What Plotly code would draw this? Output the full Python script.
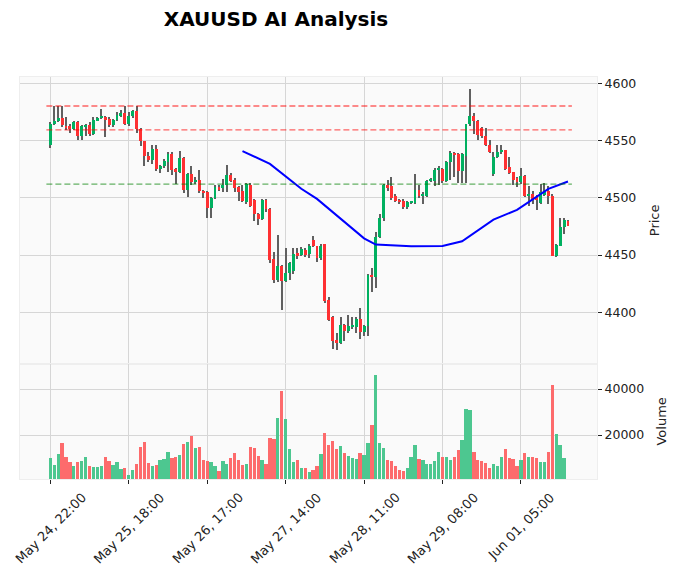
import plotly.graph_objects as go

# ---------------- data ----------------
opens = [4546, 4565, 4567, 4570, 4563, 4562.5, 4560, 4566, 4554, 4562,
         4564, 4556, 4568, 4569.5, 4571, 4569, 4564, 4568, 4572, 4574.6,
         4565, 4571.7, 4575.7, 4560, 4549.5, 4537, 4533, 4543, 4525.4, 4528,
         4531.3, 4538.6, 4525.4, 4523, 4535, 4507, 4521, 4514, 4516, 4506.4,
         4505, 4491, 4500, 4509.4, 4508.5, 4511, 4520, 4516, 4509.4, 4506.4,
         4496, 4511.4, 4498, 4486, 4481.6, 4498, 4490, 4446.5, 4428.3, 4440,
         4427.5, 4434, 4436, 4451.5, 4450, 4454.6, 4451, 4463.4, 4457.6, 4447,
         4459.6, 4410.8, 4395.4, 4375.4, 4372.8, 4388.6, 4383.6, 4387.5, 4386.6, 4394,
         4383, 4387.5, 4432.5, 4430.4, 4466, 4482, 4511.5, 4510, 4502, 4498,
         4497.5, 4491.8, 4496, 4495.5, 4507, 4502, 4502, 4515, 4514.6, 4524.5,
         4525.4, 4514.6, 4531.3, 4539, 4538.6, 4523.4, 4537, 4564.3, 4571.7, 4567.3,
         4561, 4554.6, 4546.5, 4521, 4535.7, 4540.6, 4541.5, 4527, 4522.5, 4517.3,
         4514.3, 4519.6, 4501.5, 4503.5, 4501, 4495.6, 4502.6, 4506.4, 4502, 4449.4,
         4458.2, 4474.3, 4480]
highs = [4566, 4580, 4580, 4580, 4570.8, 4565, 4567, 4567, 4564, 4565,
         4566, 4571, 4571, 4577.8, 4572, 4571, 4569, 4575, 4577, 4580,
         4575, 4577, 4580, 4561, 4550, 4540, 4546, 4546, 4529, 4534,
         4540, 4540, 4526, 4541, 4536, 4522, 4528, 4518, 4524.8, 4507,
         4506, 4501, 4511, 4511, 4516.7, 4529, 4522, 4517, 4510, 4511,
         4513, 4513, 4499, 4487, 4499, 4499, 4491, 4453, 4467.5, 4441,
         4456, 4444, 4456, 4456, 4456.8, 4456.5, 4459.6, 4466.4, 4458, 4459.6,
         4460, 4413, 4397, 4382, 4396, 4389.5, 4397.4, 4396, 4396, 4404,
         4388.5, 4433, 4439, 4470, 4486, 4512, 4516, 4518, 4503, 4499,
         4499, 4497, 4497.5, 4521, 4511, 4505, 4516, 4517.5, 4526, 4528,
         4526, 4532, 4541, 4540, 4539.5, 4539, 4565, 4595.6, 4574, 4568,
         4562, 4561, 4550.3, 4540, 4546.5, 4546.5, 4542, 4535.7, 4523, 4518,
         4526, 4520, 4510, 4506.4, 4502.5, 4512.3, 4513, 4510.8, 4503, 4460,
         4482, 4482, 4481]
lows = [4544, 4564, 4566, 4562, 4559.6, 4557, 4559, 4551, 4551, 4554,
        4554, 4555, 4567, 4569, 4553, 4562, 4562, 4567, 4571, 4564,
        4563, 4570, 4557, 4545, 4528, 4531, 4530, 4523.4, 4522, 4526,
        4523, 4520, 4512.3, 4522, 4504.4, 4500.6, 4511.4, 4512, 4504, 4499.7,
        4482, 4482.5, 4499, 4506, 4505, 4505, 4514, 4505, 4497.6, 4496,
        4495, 4492, 4480, 4476.3, 4481, 4488, 4443, 4425.4, 4426.6, 4402,
        4426.6, 4428.3, 4433.3, 4446.5, 4449, 4448, 4447, 4457, 4443.6, 4446,
        4408, 4392, 4368, 4367, 4372, 4375, 4382, 4385, 4382, 4376.3,
        4379, 4379, 4418, 4421, 4465, 4480, 4506, 4498, 4496, 4495,
        4490, 4490, 4495, 4495, 4500, 4494.7, 4501, 4513.5, 4510.8, 4511,
        4513, 4514, 4515.8, 4518, 4513, 4513, 4513, 4563, 4556, 4550.3,
        4552, 4545, 4539, 4519.6, 4535, 4538, 4524.5, 4521, 4511, 4509.4,
        4512, 4500.6, 4493, 4494.7, 4489, 4495, 4502, 4494.7, 4448.8, 4448,
        4457.5, 4468, 4475]
closes = [4565, 4567.5, 4570, 4563.4, 4561.5, 4560, 4566, 4553.8, 4563, 4564,
          4556, 4568.4, 4569.5, 4571.4, 4568.5, 4564, 4568, 4572.5, 4574.5, 4565,
          4572, 4575.7, 4560, 4549.5, 4536.5, 4533, 4543, 4525.4, 4528, 4532,
          4538.6, 4524, 4523, 4535, 4507, 4521, 4514.3, 4516, 4506.4, 4505,
          4491, 4500, 4509.4, 4507.3, 4511.4, 4520, 4515, 4508.5, 4505, 4497.6,
          4512.3, 4493, 4486, 4481.6, 4498, 4490, 4446, 4428.3, 4440, 4427.5,
          4434, 4443, 4451, 4450, 4455.3, 4450, 4458, 4457.6, 4447, 4457.6,
          4410, 4393.3, 4374.8, 4372.8, 4388.6, 4383.6, 4387.5, 4388.5, 4394, 4383,
          4387.5, 4432.5, 4430.4, 4466, 4482, 4511, 4508.8, 4500, 4497.6, 4496.5,
          4491.8, 4496, 4497, 4507, 4502, 4503.5, 4515, 4516.5, 4524.5, 4526,
          4514.6, 4531.3, 4539.2, 4538, 4523.4, 4538, 4564.3, 4571.7, 4567.3, 4555,
          4554.6, 4546, 4540.6, 4535.7, 4540.6, 4541.5, 4525.4, 4522, 4516, 4514.3,
          4519.6, 4501.5, 4503.5, 4498.5, 4498.5, 4505, 4506.4, 4502, 4449.4, 4458.8,
          4474.3, 4481, 4475]
volumes = [10100, 7100, 11700, 16500, 10400, 8300, 6700, 8300, 8800, 10400,
           6500, 6100, 6100, 6500, 10400, 8700, 7000, 8300, 5200, 5700,
           2600, 4900, 7400, 14800, 17000, 7800, 6700, 7000, 9300, 9700,
           12600, 10100, 10400, 11300, 16100, 17100, 19600, 14500, 14800, 9300,
           8800, 8400, 6700, 4500, 8800, 7500, 10100, 12200, 9300, 7100,
           7500, 14800, 14300, 11000, 9300, 7500, 18800, 18400, 27400, 39100,
           27000, 13900, 8400, 9300, 5800, 5800, 4100, 4900, 6700, 11700,
           21000, 15800, 17500, 13900, 15400, 12200, 11000, 10100, 9700, 12200,
           11500, 16700, 24500, 46200, 16700, 14500, 9300, 8800, 6700, 4900,
           4500, 5800, 10600, 15800, 9700, 9300, 7500, 7500, 8800, 12800,
           10600, 10600, 9300, 10600, 13600, 18000, 31400, 31000, 12800, 9300,
           8800, 7800, 5800, 7500, 6700, 10600, 13900, 10100, 9700, 6700,
           9300, 12200, 10600, 10600, 10100, 8400, 8400, 12800, 41900, 20600,
           15800, 10100, 1200]

ma_idx = [49, 56, 64, 68, 80, 83, 92, 100, 105, 113, 119, 127, 132]
ma_val = [4541, 4529.8, 4508, 4499.1, 4464.6, 4459.2, 4457.6, 4458, 4462, 4481, 4489.5, 4507.9, 4514.3]

resistance_levels = [4580.4, 4559.6]
support_levels = [4512.0]

tick_pos = [0, 20, 40, 60, 80, 100, 120]
tick_labels = ["May 24, 22:00", "May 25, 18:00", "May 26, 17:00", "May 27, 14:00",
               "May 28, 11:00", "May 29, 08:00", "Jun 01, 05:00"]
price_ticks = [4400, 4450, 4500, 4550, 4600]
volume_ticks = [20000, 40000]

# ---------------- styling ----------------
UP, DOWN = "#00b060", "#fe3032"
VUP, VDOWN = "#4dc790", "#fd6b6c"
WICK = "#606060"
GRID = "#d6d6d6"
FONT = "DejaVu Sans"

n = len(closes)
idx = list(range(n))
up = [c >= o for o, c in zip(opens, closes)]

wick_base = lows
wick_h = [h - l for h, l in zip(highs, lows)]
body_base = [min(o, c) for o, c in zip(opens, closes)]
body_h = [max(abs(c - o), 0.9) for o, c in zip(opens, closes)]
body_col = [UP if u else DOWN for u in up]
vol_col = [VUP if u else VDOWN for u in up]

fig = go.Figure()
fig.add_trace(go.Bar(x=idx, y=wick_h, base=wick_base, width=0.26,
                     marker=dict(color=WICK, line=dict(width=0)),
                     hoverinfo="skip", showlegend=False, xaxis="x", yaxis="y"))
fig.add_trace(go.Bar(x=idx, y=body_h, base=body_base, width=0.74,
                     marker=dict(color=body_col, line=dict(width=0)),
                     showlegend=False, xaxis="x", yaxis="y"))
fig.add_trace(go.Scatter(x=ma_idx, y=ma_val, mode="lines", line=dict(color="#0000ff", width=2),
                         showlegend=False, xaxis="x", yaxis="y"))
fig.add_trace(go.Bar(x=idx, y=volumes, width=0.84,
                     marker=dict(color=vol_col, line=dict(width=0)),
                     showlegend=False, xaxis="x2", yaxis="y2"))

for lvl in resistance_levels:
    fig.add_shape(type="line", xref="x", yref="y", x0=-1, x1=n, y0=lvl, y1=lvl,
                  line=dict(color="rgba(255,0,0,0.6)", width=1.3, dash="6px,3px"))
for lvl in support_levels:
    fig.add_shape(type="line", xref="x", yref="y", x0=-1, x1=n, y0=lvl, y1=lvl,
                  line=dict(color="rgba(0,128,0,0.6)", width=1.3, dash="6px,3px"))

# rotated date labels, centred on their ticks (matplotlib-style)
for pos, lab in zip(tick_pos, tick_labels):
    fig.add_annotation(x=pos, xref="x2", y=-0.02, yref="paper", text=lab,
                       showarrow=False, textangle=-45, xanchor="center", yanchor="top",
                       font=dict(family=FONT, size=13, color="#222222"))

xr = [-7.73, 139.4]
vol_frac = 0.2868
axis_common = dict(showline=True, linecolor="#eeeeee", linewidth=1, mirror=True,
                   zeroline=False, gridcolor=GRID, gridwidth=1, automargin=False)

fig.update_layout(
    width=678, height=579,
    margin=dict(l=20, r=81, t=77, b=100),
    paper_bgcolor="white", plot_bgcolor="#fafafa",
    font=dict(family=FONT, size=12, color="#222222"),
    barmode="overlay", bargap=0,
    title=dict(text="<b>XAUUSD AI Analysis</b>", x=276 / 678, xanchor="center",
               y=1 - 19 / 579, yanchor="middle", font=dict(family=FONT, size=20, color="#000000")),
    xaxis=dict(domain=[0, 1], anchor="y", range=xr, tickvals=tick_pos, showticklabels=False,
               showgrid=True, ticks="", **axis_common),
    xaxis2=dict(domain=[0, 1], anchor="y2", range=xr, matches="x", tickvals=tick_pos,
                showticklabels=False, ticks="outside", ticklen=4,
                tickcolor="#222222", showgrid=True, **axis_common),
    yaxis=dict(domain=[vol_frac, 1], anchor="x", side="right", range=[4354.9, 4605.8],
               tickvals=price_ticks, ticktext=[str(v) for v in price_ticks],
               ticks="outside", ticklen=4, tickcolor="#222222", showgrid=True,
               tickfont=dict(size=12.5),
               title=dict(text="Price", standoff=14, font=dict(size=13)), **axis_common),
    yaxis2=dict(domain=[0, vol_frac], anchor="x2", side="right", range=[870, 51000],
                tickvals=volume_ticks, ticktext=[str(v) for v in volume_ticks],
                ticks="outside", ticklen=4, tickcolor="#222222", tickfont=dict(size=12.5),
                showgrid=True, title=dict(text="Volume", standoff=13, font=dict(size=13)),
                **axis_common),
)

fig.write_html("out.html")
